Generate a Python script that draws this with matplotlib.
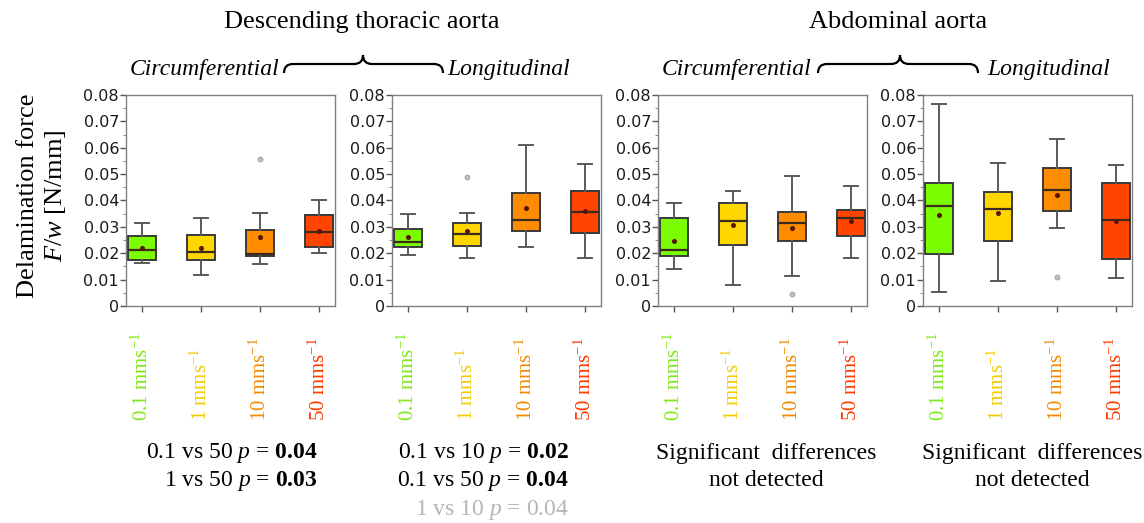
import matplotlib
matplotlib.use('Agg')
import matplotlib.pyplot as plt
import matplotlib.transforms as mtransforms
from matplotlib.path import Path
from matplotlib.patches import PathPatch
from matplotlib.ticker import MultipleLocator, FuncFormatter

plt.rcParams['mathtext.fontset'] = 'custom'
plt.rcParams['mathtext.rm'] = 'Liberation Serif'
plt.rcParams['mathtext.it'] = 'Liberation Serif:italic'
plt.rcParams['mathtext.bf'] = 'Liberation Serif:bold'

# pulling speeds and their colours
speeds = ['0.1', '1', '10', '50']
box_colors = ['#7CFC00', '#FFD700', '#FF8C00', '#FF4500']
label_colors = ['#7FE81A', '#F2CC00', '#F28A00', '#FF3A00']

# panels: DTA circ, DTA long, AA circ, AA long (values in N/mm)
whislo = [[0.0162, 0.0116, 0.0160, 0.0200],
          [0.0193, 0.0182, 0.0224, 0.0181],
          [0.0139, 0.0080, 0.0115, 0.0181],
          [0.0053, 0.0096, 0.0297, 0.0105]]
q1 = [[0.0176, 0.0174, 0.0190, 0.0225],
      [0.0225, 0.0226, 0.0283, 0.0278],
      [0.0191, 0.0233, 0.0245, 0.0267],
      [0.0198, 0.0248, 0.0360, 0.0178]]
med = [[0.0211, 0.0203, 0.0196, 0.0281],
       [0.0243, 0.0273, 0.0325, 0.0355],
       [0.0214, 0.0321, 0.0315, 0.0335],
       [0.0380, 0.0368, 0.0439, 0.0326]]
q3 = [[0.0264, 0.0269, 0.0287, 0.0345],
      [0.0293, 0.0313, 0.0427, 0.0437],
      [0.0332, 0.0391, 0.0356, 0.0365],
      [0.0465, 0.0431, 0.0524, 0.0465]]
whishi = [[0.0315, 0.0332, 0.0351, 0.0401],
          [0.0349, 0.0351, 0.0612, 0.0538],
          [0.0391, 0.0435, 0.0494, 0.0455],
          [0.0766, 0.0543, 0.0632, 0.0533]]
means = [[0.0220, 0.0219, 0.0260, 0.0286],
         [0.0262, 0.0283, 0.0373, 0.0359],
         [0.0248, 0.0308, 0.0294, 0.0321],
         [0.0346, 0.0354, 0.0421, 0.0323]]
fliers = [[[], [], [0.0557], []],
          [[], [0.0488], [], []],
          [[], [], [0.0045], []],
          [[], [], [0.0110], []]]

W, H = 1144, 523
fig = plt.figure(figsize=(W / 100, H / 100), dpi=100)


def fx(px):
    return px / W


def fy(py):
    return 1 - py / H


panel_left = [126, 392, 658, 923]
panel_w = 209
ax_top, ax_bot = 95, 306

axes = []
for i, left in enumerate(panel_left):
    ax = fig.add_axes([fx(left), fy(ax_bot), panel_w / W, (ax_bot - ax_top) / H])
    stats = []
    for j in range(4):
        stats.append(dict(whislo=whislo[i][j], q1=q1[i][j], med=med[i][j], q3=q3[i][j],
                          whishi=whishi[i][j], mean=means[i][j], fliers=fliers[i][j]))
    bp = ax.bxp(stats, positions=[1, 2, 3, 4], widths=0.46, showmeans=True,
                patch_artist=True, capwidths=0.23,
                boxprops=dict(edgecolor='#3a3a3a', linewidth=1.4),
                medianprops=dict(color='#3a2a20', linewidth=1.6),
                whiskerprops=dict(color='#5a5a5a', linewidth=1.4),
                capprops=dict(color='#5a5a5a', linewidth=1.4),
                meanprops=dict(marker='o', markersize=2.6, markerfacecolor='#5a1500',
                               markeredgecolor='#5a1500'),
                flierprops=dict(marker='o', markersize=3.5, markerfacecolor='#c0c0c0',
                                markeredgecolor='#999999', markeredgewidth=0.6))
    for patch, c in zip(bp['boxes'], box_colors):
        patch.set_facecolor(c)
    ax.set_xlim(0.73, 4.27)
    ax.set_ylim(0, 0.08)
    ax.yaxis.set_major_locator(MultipleLocator(0.01))
    ax.yaxis.set_minor_locator(MultipleLocator(0.005))
    ax.yaxis.set_major_formatter(FuncFormatter(lambda v, p: '0' if abs(v) < 1e-9 else f'{v:.2f}'))
    ax.set_xticks([1, 2, 3, 4])
    ax.set_xticklabels([])
    ax.tick_params(axis='both', which='major', length=4, color='#555555', width=1,
                   labelsize=11.5, labelcolor='#1a1a1a', pad=1)
    ax.tick_params(axis='y', which='minor', length=2, color='#777777')
    for s in ax.spines.values():
        s.set_color('#808080')
        s.set_linewidth(1.0)
    # rotated speed labels, aligned at their start
    trans = mtransforms.blended_transform_factory(ax.transData, fig.transFigure)
    for j, (sp, lc) in enumerate(zip(speeds, label_colors)):
        ax.text(j + 1, fy(421), sp + r' mms$^{\mathregular{-1}}$', rotation=90,
                ha='center', va='bottom', color=lc, fontsize=15,
                family='Liberation Serif', transform=trans)
    axes.append(ax)

serif = 'Liberation Serif'

# group titles
fig.text(fx(362), fy(22), 'Descending thoracic aorta', ha='center', va='center',
         fontsize=19, family=serif)
fig.text(fx(898), fy(22), 'Abdominal aorta', ha='center', va='center',
         fontsize=19, family=serif)


def brace(x0, x1, xc, y, h):
    verts = [(x0, y + h), (x0, y), (x0 + h, y), (xc - h, y), (xc, y), (xc, y - h),
             (xc, y), (xc + h, y), (x1 - h, y), (x1, y), (x1, y + h)]
    codes = [Path.MOVETO, Path.CURVE3, Path.CURVE3, Path.LINETO, Path.CURVE3, Path.CURVE3,
             Path.CURVE3, Path.CURVE3, Path.LINETO, Path.CURVE3, Path.CURVE3]
    verts = [(fx(a), fy(b)) for a, b in verts]
    fig.add_artist(PathPatch(Path(verts, codes), facecolor='none', edgecolor='black',
                             linewidth=1.6, transform=fig.transFigure))


brace(284, 443, 363, 64, 9)
brace(818, 978, 900, 64, 9)

fig.text(fx(279), fy(70), 'Circumferential', ha='right', va='center', fontsize=17,
         family=serif, style='italic')
fig.text(fx(447), fy(70), 'Longitudinal', ha='left', va='center', fontsize=17,
         family=serif, style='italic')
fig.text(fx(811), fy(70), 'Circumferential', ha='right', va='center', fontsize=17,
         family=serif, style='italic')
fig.text(fx(987), fy(70), 'Longitudinal', ha='left', va='center', fontsize=17,
         family=serif, style='italic')

# y label
fig.text(fx(28), fy(196), 'Delamination force', rotation=90, ha='center', va='center',
         fontsize=19, family=serif)
fig.text(fx(56), fy(196), '$F/w$ [N/mm]', rotation=90, ha='center', va='center',
         fontsize=19, family=serif)

# significance notes
kw = dict(fontsize=17, family=serif, va='center')
fig.text(fx(318), fy(453), r'0.1 vs 50 $p$ = $\mathbf{0.04}$', ha='right', **kw)
fig.text(fx(318), fy(481), r'1 vs 50 $p$ = $\mathbf{0.03}$', ha='right', **kw)
fig.text(fx(569), fy(453), r'0.1 vs 10 $p$ = $\mathbf{0.02}$', ha='right', **kw)
fig.text(fx(569), fy(481), r'0.1 vs 50 $p$ = $\mathbf{0.04}$', ha='right', **kw)
fig.text(fx(569), fy(510), r'1 vs 10 $p$ = 0.04', ha='right', color='#b5b5b5', **kw)
fig.text(fx(766), fy(453), 'Significant  differences', ha='center', **kw)
fig.text(fx(766), fy(481), 'not detected', ha='center', **kw)
fig.text(fx(1032), fy(453), 'Significant  differences', ha='center', **kw)
fig.text(fx(1032), fy(481), 'not detected', ha='center', **kw)

fig.savefig('out.png', dpi=100)
